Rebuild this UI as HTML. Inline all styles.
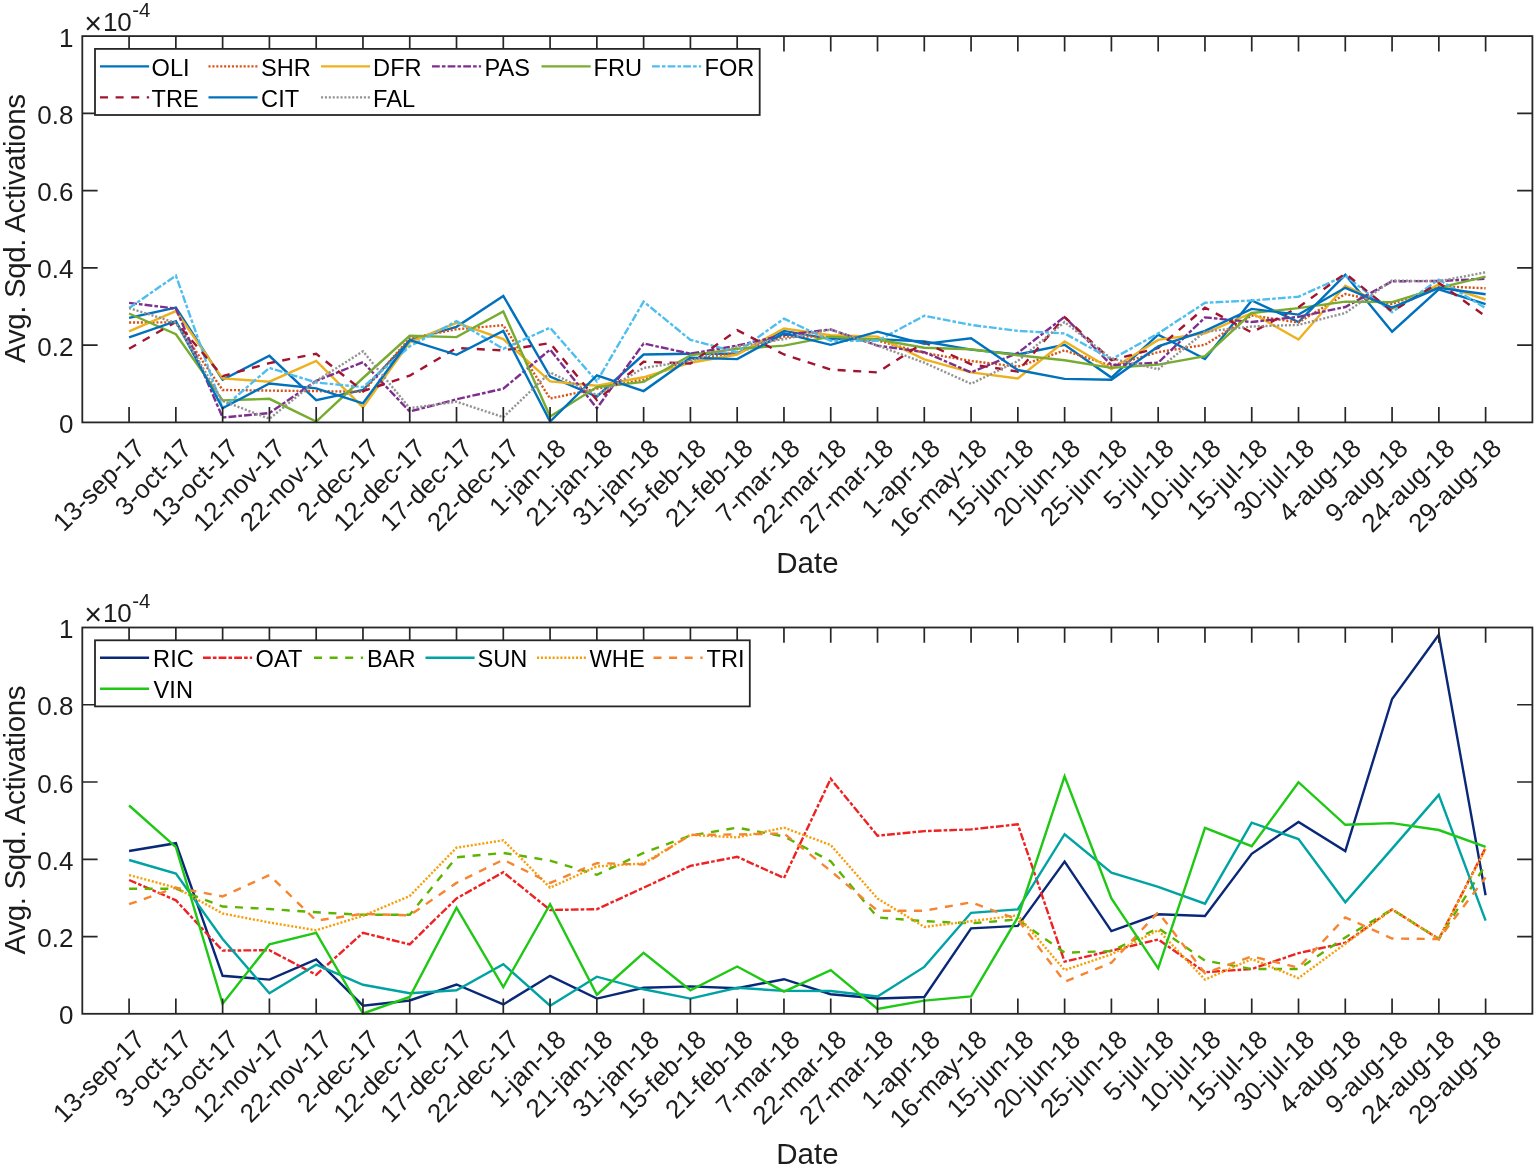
<!DOCTYPE html>
<html lang="en"><head><meta charset="utf-8"><title>Avg. Sqd. Activations by Date</title>
<style>html,body{margin:0;padding:0;background:#fff}body{width:1536px;height:1168px;overflow:hidden}svg{display:block}text{font-family:"Liberation Sans",Arial,Helvetica,sans-serif}</style></head><body>
<svg width="1536" height="1168" viewBox="0 0 1536 1168">
<rect width="1536" height="1168" fill="#fff"/>
<g>
<g fill="none" stroke-width="2.40" stroke-linejoin="miter" stroke-miterlimit="3">
<polyline points="129.1,317.9 175.9,307.6 222.6,379.7 269.4,355.8 316.2,400.1 363.0,390.0 409.7,340.2 456.5,326.8 503.3,295.9 550.1,376.5 596.9,396.5 643.6,354.5 690.4,353.7 737.2,353.7 784.0,330.9 830.7,339.1 877.5,339.1 924.3,341.5 971.1,349.6 1017.8,354.5 1064.6,344.8 1111.4,377.6 1158.2,334.7 1205.0,359.1 1251.7,300.5 1298.5,322.0 1345.3,274.8 1392.1,331.7 1438.8,289.4 1485.6,304.1" stroke="#0072BD"/>
<polyline points="129.1,322.5 175.9,322.3 222.6,390.0 269.4,390.6 316.2,391.1 363.0,391.8 409.7,338.2 456.5,329.3 503.3,325.2 550.1,398.5 596.9,388.7 643.6,379.7 690.4,359.4 737.2,352.9 784.0,336.6 830.7,336.6 877.5,340.7 924.3,352.9 971.1,361.0 1017.8,366.7 1064.6,350.4 1111.4,365.9 1158.2,352.1 1205.0,344.8 1251.7,315.5 1298.5,322.5 1345.3,294.0 1392.1,304.1 1438.8,286.2 1485.6,288.3" stroke="#D95319" stroke-dasharray="2.1 1.8"/>
<polyline points="129.1,331.4 175.9,311.1 222.6,378.4 269.4,381.7 316.2,361.0 363.0,407.4 409.7,342.3 456.5,322.8 503.3,339.1 550.1,381.4 596.9,385.8 643.6,377.3 690.4,362.7 737.2,354.5 784.0,328.5 830.7,335.3 877.5,336.6 924.3,359.4 971.1,372.4 1017.8,378.4 1064.6,341.5 1111.4,369.2 1158.2,339.9 1205.0,333.4 1251.7,313.0 1298.5,339.5 1345.3,285.8 1392.1,308.9 1438.8,284.2 1485.6,299.5" stroke="#EDB120"/>
<polyline points="129.1,302.9 175.9,308.6 222.6,417.5 269.4,413.1 316.2,380.9 363.0,362.2 409.7,411.5 456.5,399.3 503.3,388.7 550.1,349.6 596.9,408.2 643.6,343.5 690.4,353.7 737.2,345.6 784.0,335.0 830.7,329.5 877.5,345.6 924.3,352.1 971.1,372.4 1017.8,352.9 1064.6,316.8 1111.4,365.1 1158.2,362.7 1205.0,317.4 1251.7,322.0 1298.5,316.8 1345.3,307.0 1392.1,281.3 1438.8,281.0 1485.6,278.8" stroke="#7E2F8E" stroke-dasharray="7.8 2.1 3.6 2.1"/>
<polyline points="129.1,313.5 175.9,334.2 222.6,400.4 269.4,398.8 316.2,421.6 363.0,378.0 409.7,335.8 456.5,337.1 503.3,311.4 550.1,416.4 596.9,387.1 643.6,381.9 690.4,355.3 737.2,348.8 784.0,345.6 830.7,336.6 877.5,339.5 924.3,347.7 971.1,349.3 1017.8,355.3 1064.6,360.2 1111.4,367.9 1158.2,364.6 1205.0,356.1 1251.7,313.0 1298.5,308.1 1345.3,301.6 1392.1,302.1 1438.8,287.8 1485.6,276.7" stroke="#77AC30"/>
<polyline points="129.1,308.1 175.9,275.6 222.6,408.2 269.4,367.9 316.2,382.5 363.0,387.1 409.7,346.4 456.5,321.2 503.3,348.8 550.1,327.7 596.9,381.4 643.6,301.6 690.4,339.9 737.2,352.1 784.0,318.7 830.7,340.7 877.5,340.7 924.3,315.8 971.1,324.9 1017.8,330.9 1064.6,333.4 1111.4,359.4 1158.2,333.4 1205.0,302.8 1251.7,300.5 1298.5,296.7 1345.3,275.6 1392.1,312.2 1438.8,279.6 1485.6,308.1" stroke="#4DBEEE" stroke-dasharray="7.8 2.1 3.6 2.1"/>
<polyline points="129.1,348.8 175.9,322.0 222.6,376.2 269.4,363.1 316.2,353.7 363.0,391.1 409.7,375.7 456.5,348.0 503.3,350.4 550.1,343.1 596.9,400.1 643.6,361.8 690.4,363.5 737.2,330.1 784.0,354.5 830.7,369.6 877.5,372.4 924.3,342.3 971.1,364.3 1017.8,371.6 1064.6,317.1 1111.4,360.2 1158.2,348.0 1205.0,307.6 1251.7,332.5 1298.5,307.3 1345.3,273.5 1392.1,311.4 1438.8,282.9 1485.6,316.3" stroke="#A2142F" stroke-dasharray="8 7.6"/>
<polyline points="129.1,337.4 175.9,321.2 222.6,408.2 269.4,383.5 316.2,388.4 363.0,403.3 409.7,340.2 456.5,354.8 503.3,330.9 550.1,421.6 596.9,375.4 643.6,391.1 690.4,357.8 737.2,359.1 784.0,333.4 830.7,344.8 877.5,331.7 924.3,343.9 971.1,338.2 1017.8,370.0 1064.6,378.9 1111.4,379.7 1158.2,346.4 1205.0,330.9 1251.7,308.9 1298.5,314.6 1345.3,287.8 1392.1,307.6 1438.8,287.8 1485.6,294.3" stroke="#0072BD"/>
<polyline points="129.1,308.1 175.9,322.8 222.6,400.9 269.4,418.8 316.2,380.9 363.0,351.3 409.7,408.2 456.5,401.7 503.3,417.2 550.1,372.4 596.9,395.2 643.6,367.9 690.4,361.0 737.2,346.4 784.0,339.1 830.7,329.5 877.5,345.6 924.3,362.7 971.1,383.8 1017.8,361.0 1064.6,322.0 1111.4,358.6 1158.2,369.2 1205.0,331.7 1251.7,326.5 1298.5,324.9 1345.3,313.0 1392.1,280.5 1438.8,281.3 1485.6,272.3" stroke="#939393" stroke-dasharray="2.1 1.8"/>
</g>
<path d="M129.08 422.40v-15.3M129.08 36.10v15.3M175.85 422.40v-15.3M175.85 36.10v15.3M222.63 422.40v-15.3M222.63 36.10v15.3M269.41 422.40v-15.3M269.41 36.10v15.3M316.19 422.40v-15.3M316.19 36.10v15.3M362.96 422.40v-15.3M362.96 36.10v15.3M409.74 422.40v-15.3M409.74 36.10v15.3M456.52 422.40v-15.3M456.52 36.10v15.3M503.30 422.40v-15.3M503.30 36.10v15.3M550.07 422.40v-15.3M550.07 36.10v15.3M596.85 422.40v-15.3M596.85 36.10v15.3M643.63 422.40v-15.3M643.63 36.10v15.3M690.41 422.40v-15.3M690.41 36.10v15.3M737.18 422.40v-15.3M737.18 36.10v15.3M783.96 422.40v-15.3M783.96 36.10v15.3M830.74 422.40v-15.3M830.74 36.10v15.3M877.52 422.40v-15.3M877.52 36.10v15.3M924.29 422.40v-15.3M924.29 36.10v15.3M971.07 422.40v-15.3M971.07 36.10v15.3M1017.85 422.40v-15.3M1017.85 36.10v15.3M1064.63 422.40v-15.3M1064.63 36.10v15.3M1111.40 422.40v-15.3M1111.40 36.10v15.3M1158.18 422.40v-15.3M1158.18 36.10v15.3M1204.96 422.40v-15.3M1204.96 36.10v15.3M1251.74 422.40v-15.3M1251.74 36.10v15.3M1298.51 422.40v-15.3M1298.51 36.10v15.3M1345.29 422.40v-15.3M1345.29 36.10v15.3M1392.07 422.40v-15.3M1392.07 36.10v15.3M1438.85 422.40v-15.3M1438.85 36.10v15.3M1485.62 422.40v-15.3M1485.62 36.10v15.3M82.30 345.14h15.3M1532.40 345.14h-15.3M82.30 267.88h15.3M1532.40 267.88h-15.3M82.30 190.62h15.3M1532.40 190.62h-15.3M82.30 113.36h15.3M1532.40 113.36h-15.3" stroke="#262626" stroke-width="1.7" fill="none"/>
<rect x="82.30" y="36.10" width="1450.10" height="386.30" fill="none" stroke="#262626" stroke-width="1.8"/>
<g font-size="26.0" fill="#1c1c1c" text-anchor="end">
<text x="73.4" y="432.9">0</text>
<text x="73.4" y="355.6">0.2</text>
<text x="73.4" y="278.4">0.4</text>
<text x="73.4" y="201.1">0.6</text>
<text x="73.4" y="123.9">0.8</text>
<text x="73.4" y="46.6">1</text>
</g>
<text y="30.9" font-size="26.0" fill="#1c1c1c"><tspan x="84.2" font-size="30.5" dy="2.6">×</tspan><tspan x="102.9" dy="-2.6">10</tspan><tspan x="132.2" dy="-14" font-size="20.4">-4</tspan></text>
<g font-size="26.0" fill="#1c1c1c" text-anchor="end">
<text transform="translate(146.5 449.9) rotate(-45)">13-sep-17</text>
<text transform="translate(193.3 449.9) rotate(-45)">3-oct-17</text>
<text transform="translate(240.0 449.9) rotate(-45)">13-oct-17</text>
<text transform="translate(286.8 449.9) rotate(-45)">12-nov-17</text>
<text transform="translate(333.6 449.9) rotate(-45)">22-nov-17</text>
<text transform="translate(380.4 449.9) rotate(-45)">2-dec-17</text>
<text transform="translate(427.1 449.9) rotate(-45)">12-dec-17</text>
<text transform="translate(473.9 449.9) rotate(-45)">17-dec-17</text>
<text transform="translate(520.7 449.9) rotate(-45)">22-dec-17</text>
<text transform="translate(567.5 449.9) rotate(-45)">1-jan-18</text>
<text transform="translate(614.3 449.9) rotate(-45)">21-jan-18</text>
<text transform="translate(661.0 449.9) rotate(-45)">31-jan-18</text>
<text transform="translate(707.8 449.9) rotate(-45)">15-feb-18</text>
<text transform="translate(754.6 449.9) rotate(-45)">21-feb-18</text>
<text transform="translate(801.4 449.9) rotate(-45)">7-mar-18</text>
<text transform="translate(848.1 449.9) rotate(-45)">22-mar-18</text>
<text transform="translate(894.9 449.9) rotate(-45)">27-mar-18</text>
<text transform="translate(941.7 449.9) rotate(-45)">1-apr-18</text>
<text transform="translate(988.5 449.9) rotate(-45)">16-may-18</text>
<text transform="translate(1035.2 449.9) rotate(-45)">15-jun-18</text>
<text transform="translate(1082.0 449.9) rotate(-45)">20-jun-18</text>
<text transform="translate(1128.8 449.9) rotate(-45)">25-jun-18</text>
<text transform="translate(1175.6 449.9) rotate(-45)">5-jul-18</text>
<text transform="translate(1222.4 449.9) rotate(-45)">10-jul-18</text>
<text transform="translate(1269.1 449.9) rotate(-45)">15-jul-18</text>
<text transform="translate(1315.9 449.9) rotate(-45)">30-jul-18</text>
<text transform="translate(1362.7 449.9) rotate(-45)">4-aug-18</text>
<text transform="translate(1409.5 449.9) rotate(-45)">9-aug-18</text>
<text transform="translate(1456.2 449.9) rotate(-45)">24-aug-18</text>
<text transform="translate(1503.0 449.9) rotate(-45)">29-aug-18</text>
</g>
<text x="807.4" y="572.5" font-size="29.5" fill="#1c1c1c" text-anchor="middle">Date</text>
<text transform="translate(25.3 228.4) rotate(-90)" font-size="29.5" fill="#1c1c1c" text-anchor="middle" textLength="269" lengthAdjust="spacing">Avg. Sqd. Activations</text>
<rect x="95.0" y="48.9" width="664.7" height="66.1" fill="#fff" stroke="#262626" stroke-width="1.8"/>
<path d="M100.0 66.4h49.1" stroke="#0072BD" stroke-width="2.40" fill="none"/>
<text x="151.6" y="75.9" font-size="23.6" fill="#000">OLI</text>
<path d="M208.5 66.4h49.1" stroke="#D95319" stroke-width="2.40" fill="none" stroke-dasharray="2.1 1.8"/>
<text x="261.1" y="75.9" font-size="23.6" fill="#000">SHR</text>
<path d="M321.0 66.4h49.1" stroke="#EDB120" stroke-width="2.40" fill="none"/>
<text x="373.1" y="75.9" font-size="23.6" fill="#000">DFR</text>
<path d="M432.0 66.4h49.1" stroke="#7E2F8E" stroke-width="2.40" fill="none" stroke-dasharray="7.8 2.1 3.6 2.1"/>
<text x="484.6" y="75.9" font-size="23.6" fill="#000">PAS</text>
<path d="M541.5 66.4h49.1" stroke="#77AC30" stroke-width="2.40" fill="none"/>
<text x="593.6" y="75.9" font-size="23.6" fill="#000">FRU</text>
<path d="M652.0 66.4h49.1" stroke="#4DBEEE" stroke-width="2.40" fill="none" stroke-dasharray="7.8 2.1 3.6 2.1"/>
<text x="704.6" y="75.9" font-size="23.6" fill="#000">FOR</text>
<path d="M100.0 97.4h49.1" stroke="#A2142F" stroke-width="2.40" fill="none" stroke-dasharray="8 7.6"/>
<text x="151.6" y="106.9" font-size="23.6" fill="#000">TRE</text>
<path d="M208.5 97.4h49.1" stroke="#0072BD" stroke-width="2.40" fill="none"/>
<text x="261.1" y="106.9" font-size="23.6" fill="#000">CIT</text>
<path d="M321.0 97.4h49.1" stroke="#939393" stroke-width="2.40" fill="none" stroke-dasharray="2.1 1.8"/>
<text x="373.1" y="106.9" font-size="23.6" fill="#000">FAL</text>
</g>
<g>
<g fill="none" stroke-width="2.40" stroke-linejoin="miter" stroke-miterlimit="3">
<polyline points="129.1,851.0 175.9,843.2 222.6,975.8 269.4,979.6 316.2,959.3 363.0,1005.7 409.7,1000.5 456.5,984.5 503.3,1004.4 550.1,975.8 596.9,998.6 643.6,987.8 690.4,986.4 737.2,988.3 784.0,979.2 830.7,994.2 877.5,998.5 924.3,997.0 971.1,928.4 1017.8,925.9 1064.6,861.6 1111.4,931.1 1158.2,914.3 1205.0,916.0 1251.7,853.8 1298.5,822.0 1345.3,851.1 1392.1,699.0 1438.8,634.7 1485.6,895.3" stroke="#0A2878"/>
<polyline points="129.1,880.0 175.9,900.3 222.6,950.6 269.4,950.2 316.2,974.8 363.0,932.8 409.7,944.4 456.5,898.4 503.3,872.2 550.1,910.0 596.9,909.2 643.6,887.7 690.4,865.9 737.2,856.8 784.0,878.0 830.7,778.8 877.5,835.7 924.3,831.1 971.1,829.4 1017.8,824.3 1064.6,961.7 1111.4,950.7 1158.2,939.5 1205.0,972.2 1251.7,969.0 1298.5,953.2 1345.3,942.7 1392.1,909.4 1438.8,939.0 1485.6,847.9" stroke="#EE2222" stroke-dasharray="7.8 2.1 3.6 2.1"/>
<polyline points="129.1,888.7 175.9,888.7 222.6,906.5 269.4,909.0 316.2,912.3 363.0,914.8 409.7,914.8 456.5,857.3 503.3,852.9 550.1,860.6 596.9,874.8 643.6,852.9 690.4,835.5 737.2,827.7 784.0,836.4 830.7,861.3 877.5,917.4 924.3,921.2 971.1,923.3 1017.8,919.5 1064.6,952.7 1111.4,951.1 1158.2,928.0 1205.0,960.6 1251.7,969.0 1298.5,969.0 1345.3,937.4 1392.1,909.4 1438.8,939.0 1485.6,864.8" stroke="#5DB400" stroke-dasharray="8 7.6"/>
<polyline points="129.1,860.0 175.9,873.6 222.6,939.0 269.4,993.2 316.2,964.7 363.0,984.8 409.7,993.2 456.5,990.3 503.3,964.1 550.1,1005.7 596.9,976.7 643.6,989.3 690.4,998.6 737.2,987.8 784.0,990.9 830.7,991.0 877.5,996.4 924.3,966.9 971.1,912.8 1017.8,909.4 1064.6,834.2 1111.4,872.6 1158.2,886.9 1205.0,903.7 1251.7,822.7 1298.5,839.1 1345.3,902.3 1392.1,848.6 1438.8,794.9 1485.6,920.6" stroke="#00A3A3"/>
<polyline points="129.1,875.1 175.9,887.7 222.6,913.5 269.4,922.5 316.2,930.3 363.0,915.8 409.7,896.0 456.5,847.7 503.3,840.3 550.1,887.7 596.9,866.4 643.6,863.5 690.4,834.9 737.2,837.4 784.0,827.7 830.7,845.0 877.5,898.5 924.3,926.9 971.1,921.2 1017.8,915.3 1064.6,970.1 1111.4,954.3 1158.2,930.1 1205.0,979.6 1251.7,959.1 1298.5,978.1 1345.3,943.8 1392.1,909.4 1438.8,939.0 1485.6,849.0" stroke="#F5A00A" stroke-dasharray="2.1 1.8"/>
<polyline points="129.1,904.2 175.9,887.7 222.6,896.4 269.4,875.1 316.2,920.6 363.0,913.8 409.7,915.4 456.5,882.9 503.3,859.7 550.1,882.9 596.9,863.1 643.6,864.5 690.4,834.9 737.2,834.5 784.0,833.5 830.7,871.0 877.5,910.7 924.3,910.7 971.1,902.3 1017.8,919.5 1064.6,981.7 1111.4,962.7 1158.2,912.2 1205.0,973.2 1251.7,956.4 1298.5,967.6 1345.3,917.4 1392.1,938.5 1438.8,939.0 1485.6,877.4" stroke="#F58530" stroke-dasharray="8 7.6"/>
<polyline points="129.1,805.5 175.9,847.1 222.6,1003.8 269.4,944.4 316.2,932.8 363.0,1013.5 409.7,997.0 456.5,907.6 503.3,987.0 550.1,904.2 596.9,994.7 643.6,952.9 690.4,990.3 737.2,966.5 784.0,991.6 830.7,970.2 877.5,1009.0 924.3,1000.6 971.1,996.4 1017.8,917.4 1064.6,776.3 1111.4,898.5 1158.2,968.4 1205.0,827.9 1251.7,846.2 1298.5,782.2 1345.3,824.8 1392.1,823.1 1438.8,830.0 1485.6,846.9" stroke="#1EC814"/>
</g>
<path d="M129.08 1013.80v-15.3M129.08 627.50v15.3M175.85 1013.80v-15.3M175.85 627.50v15.3M222.63 1013.80v-15.3M222.63 627.50v15.3M269.41 1013.80v-15.3M269.41 627.50v15.3M316.19 1013.80v-15.3M316.19 627.50v15.3M362.96 1013.80v-15.3M362.96 627.50v15.3M409.74 1013.80v-15.3M409.74 627.50v15.3M456.52 1013.80v-15.3M456.52 627.50v15.3M503.30 1013.80v-15.3M503.30 627.50v15.3M550.07 1013.80v-15.3M550.07 627.50v15.3M596.85 1013.80v-15.3M596.85 627.50v15.3M643.63 1013.80v-15.3M643.63 627.50v15.3M690.41 1013.80v-15.3M690.41 627.50v15.3M737.18 1013.80v-15.3M737.18 627.50v15.3M783.96 1013.80v-15.3M783.96 627.50v15.3M830.74 1013.80v-15.3M830.74 627.50v15.3M877.52 1013.80v-15.3M877.52 627.50v15.3M924.29 1013.80v-15.3M924.29 627.50v15.3M971.07 1013.80v-15.3M971.07 627.50v15.3M1017.85 1013.80v-15.3M1017.85 627.50v15.3M1064.63 1013.80v-15.3M1064.63 627.50v15.3M1111.40 1013.80v-15.3M1111.40 627.50v15.3M1158.18 1013.80v-15.3M1158.18 627.50v15.3M1204.96 1013.80v-15.3M1204.96 627.50v15.3M1251.74 1013.80v-15.3M1251.74 627.50v15.3M1298.51 1013.80v-15.3M1298.51 627.50v15.3M1345.29 1013.80v-15.3M1345.29 627.50v15.3M1392.07 1013.80v-15.3M1392.07 627.50v15.3M1438.85 1013.80v-15.3M1438.85 627.50v15.3M1485.62 1013.80v-15.3M1485.62 627.50v15.3M82.30 936.54h15.3M1532.40 936.54h-15.3M82.30 859.28h15.3M1532.40 859.28h-15.3M82.30 782.02h15.3M1532.40 782.02h-15.3M82.30 704.76h15.3M1532.40 704.76h-15.3" stroke="#262626" stroke-width="1.7" fill="none"/>
<rect x="82.30" y="627.50" width="1450.10" height="386.30" fill="none" stroke="#262626" stroke-width="1.8"/>
<g font-size="26.0" fill="#1c1c1c" text-anchor="end">
<text x="73.4" y="1024.3">0</text>
<text x="73.4" y="947.0">0.2</text>
<text x="73.4" y="869.8">0.4</text>
<text x="73.4" y="792.5">0.6</text>
<text x="73.4" y="715.3">0.8</text>
<text x="73.4" y="638.0">1</text>
</g>
<text y="622.3" font-size="26.0" fill="#1c1c1c"><tspan x="84.2" font-size="30.5" dy="2.6">×</tspan><tspan x="102.9" dy="-2.6">10</tspan><tspan x="132.2" dy="-14" font-size="20.4">-4</tspan></text>
<g font-size="26.0" fill="#1c1c1c" text-anchor="end">
<text transform="translate(146.5 1041.3) rotate(-45)">13-sep-17</text>
<text transform="translate(193.3 1041.3) rotate(-45)">3-oct-17</text>
<text transform="translate(240.0 1041.3) rotate(-45)">13-oct-17</text>
<text transform="translate(286.8 1041.3) rotate(-45)">12-nov-17</text>
<text transform="translate(333.6 1041.3) rotate(-45)">22-nov-17</text>
<text transform="translate(380.4 1041.3) rotate(-45)">2-dec-17</text>
<text transform="translate(427.1 1041.3) rotate(-45)">12-dec-17</text>
<text transform="translate(473.9 1041.3) rotate(-45)">17-dec-17</text>
<text transform="translate(520.7 1041.3) rotate(-45)">22-dec-17</text>
<text transform="translate(567.5 1041.3) rotate(-45)">1-jan-18</text>
<text transform="translate(614.3 1041.3) rotate(-45)">21-jan-18</text>
<text transform="translate(661.0 1041.3) rotate(-45)">31-jan-18</text>
<text transform="translate(707.8 1041.3) rotate(-45)">15-feb-18</text>
<text transform="translate(754.6 1041.3) rotate(-45)">21-feb-18</text>
<text transform="translate(801.4 1041.3) rotate(-45)">7-mar-18</text>
<text transform="translate(848.1 1041.3) rotate(-45)">22-mar-18</text>
<text transform="translate(894.9 1041.3) rotate(-45)">27-mar-18</text>
<text transform="translate(941.7 1041.3) rotate(-45)">1-apr-18</text>
<text transform="translate(988.5 1041.3) rotate(-45)">16-may-18</text>
<text transform="translate(1035.2 1041.3) rotate(-45)">15-jun-18</text>
<text transform="translate(1082.0 1041.3) rotate(-45)">20-jun-18</text>
<text transform="translate(1128.8 1041.3) rotate(-45)">25-jun-18</text>
<text transform="translate(1175.6 1041.3) rotate(-45)">5-jul-18</text>
<text transform="translate(1222.4 1041.3) rotate(-45)">10-jul-18</text>
<text transform="translate(1269.1 1041.3) rotate(-45)">15-jul-18</text>
<text transform="translate(1315.9 1041.3) rotate(-45)">30-jul-18</text>
<text transform="translate(1362.7 1041.3) rotate(-45)">4-aug-18</text>
<text transform="translate(1409.5 1041.3) rotate(-45)">9-aug-18</text>
<text transform="translate(1456.2 1041.3) rotate(-45)">24-aug-18</text>
<text transform="translate(1503.0 1041.3) rotate(-45)">29-aug-18</text>
</g>
<text x="807.4" y="1163.9" font-size="29.5" fill="#1c1c1c" text-anchor="middle">Date</text>
<text transform="translate(25.3 819.9) rotate(-90)" font-size="29.5" fill="#1c1c1c" text-anchor="middle" textLength="269" lengthAdjust="spacing">Avg. Sqd. Activations</text>
<rect x="95.0" y="640.3" width="654.8" height="66.1" fill="#fff" stroke="#262626" stroke-width="1.8"/>
<path d="M100.0 657.8h49.1" stroke="#0A2878" stroke-width="2.40" fill="none"/>
<text x="153.1" y="667.3" font-size="23.6" fill="#000">RIC</text>
<path d="M203.0 657.8h49.1" stroke="#EE2222" stroke-width="2.40" fill="none" stroke-dasharray="7.8 2.1 3.6 2.1"/>
<text x="255.6" y="667.3" font-size="23.6" fill="#000">OAT</text>
<path d="M314.0 657.8h49.1" stroke="#5DB400" stroke-width="2.40" fill="none" stroke-dasharray="8 7.6"/>
<text x="367.1" y="667.3" font-size="23.6" fill="#000">BAR</text>
<path d="M425.5 657.8h49.1" stroke="#00A3A3" stroke-width="2.40" fill="none"/>
<text x="477.6" y="667.3" font-size="23.6" fill="#000">SUN</text>
<path d="M537.0 657.8h49.1" stroke="#F5A00A" stroke-width="2.40" fill="none" stroke-dasharray="2.1 1.8"/>
<text x="589.6" y="667.3" font-size="23.6" fill="#000">WHE</text>
<path d="M653.5 657.8h49.1" stroke="#F58530" stroke-width="2.40" fill="none" stroke-dasharray="8 7.6"/>
<text x="706.6" y="667.3" font-size="23.6" fill="#000">TRI</text>
<path d="M100.0 688.8h49.1" stroke="#1EC814" stroke-width="2.40" fill="none"/>
<text x="153.6" y="698.3" font-size="23.6" fill="#000">VIN</text>
</g>
</svg></body></html>
